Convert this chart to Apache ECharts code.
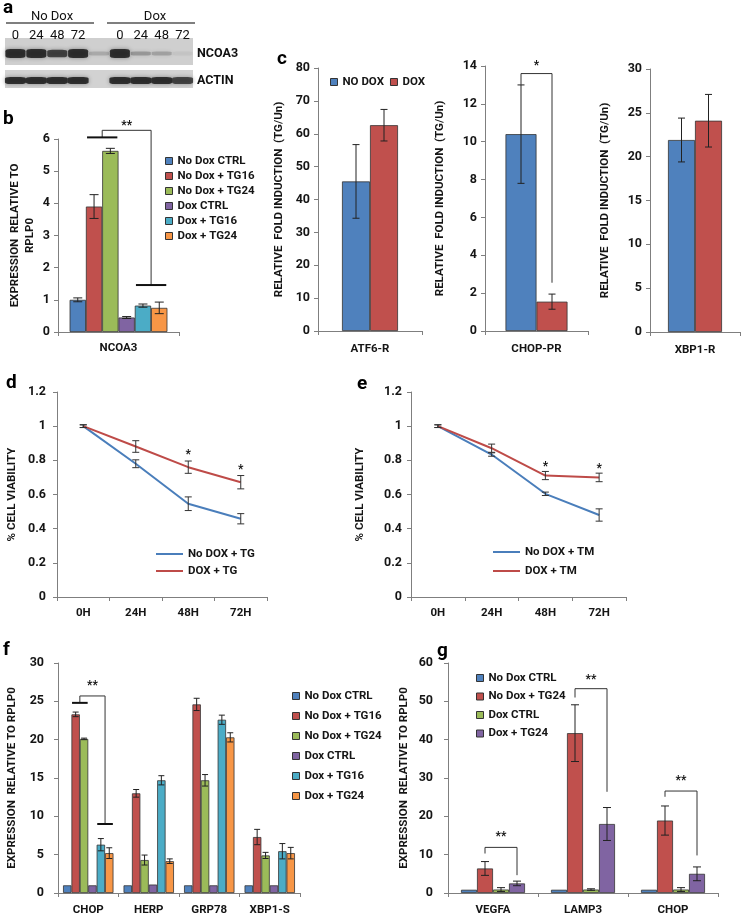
<!DOCTYPE html>
<html><head><meta charset="utf-8">
<script src="https://cdn.jsdelivr.net/npm/echarts@6/dist/echarts.min.js"></script>
<style>html,body{margin:0;padding:0;background:#fff}#c{width:745px;height:916px}</style>
</head><body><div id="c"></div>
<script>
// ---------------- DATA ----------------
// (a) western blot – relative band intensities per lane
const blotLanes = ['0','24','48','72','','0','24','48','72'];
const blotRows = ['ACTIN','NCOA3'];
const blotNCOA3 = [1.0, 1.0, 0.85, 1.0, 0.2, 1.0, 0.3, 0.25, 0.06];
const blotACTIN = [1.0, 1.0, 1.0, 1.0, 0, 1.0, 1.0, 1.0, 0.85];

// (b)
const names6 = ['No Dox CTRL','No Dox + TG16','No Dox + TG24','Dox CTRL','Dox + TG16','Dox + TG24'];
const colors6 = ['#4f81bd','#c0504d','#9bbb59','#8064a2','#4bacc6','#f79646'];
const bCategories = ['NCOA3'];
const bMeans = [1.0, 3.9, 5.63, 0.45, 0.82, 0.75];
const bErrors = [0.06, 0.37, 0.08, 0.03, 0.05, 0.18];

// (c)
const cNames = ['NO DOX','DOX'];
const cColors = ['#4f81bd','#c0504d'];
const cCategories = ['ATF6-R','CHOP-PR','XBP1-R'];
const cNoDox = [45.5, 10.4, 21.9];
const cNoDoxErr = [11.2, 2.6, 2.5];
const cDox = [62.6, 1.55, 24.1];
const cDoxErr = [4.8, 0.4, 3.0];
const cMax = [80, 14, 30];
const cInterval = [10, 2, 5];

// (d) TG viability
const timeCategories = ['0H','24H','48H','72H'];
const dNames = ['No DOX + TG','DOX + TG'];
const dNoDox = [1.0, 0.78, 0.546, 0.458];
const dNoDoxErr = [0.008, 0.023, 0.04, 0.03];
const dDox = [1.0, 0.881, 0.76, 0.672];
const dDoxErr = [0.008, 0.034, 0.036, 0.039];
const dStars = [[2, 0.85], [3, 0.76]];

// (e) TM viability
const eNames = ['No DOX + TM','DOX + TM'];
const eNoDox = [1.0, 0.834, 0.604, 0.48];
const eNoDoxErr = [0.008, 0.01, 0.01, 0.036];
const eDox = [1.0, 0.871, 0.711, 0.70];
const eDoxErr = [0.008, 0.024, 0.024, 0.025];
const eStars = [[2, 0.776], [3, 0.764]];

// (f)
const fCategories = ['CHOP','HERP','GRP78','XBP1-S'];
const fNoDoxCtrl = [1, 1, 1, 1];
const fNoDoxTG16 = [23.3, 13.0, 24.6, 7.3];
const fNoDoxTG24 = [20.1, 4.3, 14.7, 4.9];
const fDoxCtrl = [1, 1.1, 1, 1];
const fDoxTG16 = [6.3, 14.7, 22.6, 5.45];
const fDoxTG24 = [5.2, 4.15, 20.3, 5.2];
const fNoDoxCtrlErr = [0, 0, 0, 0];
const fNoDoxTG16Err = [0.3, 0.5, 0.8, 1.0];
const fNoDoxTG24Err = [0.1, 0.65, 0.75, 0.4];
const fDoxCtrlErr = [0, 0, 0, 0];
const fDoxTG16Err = [0.8, 0.6, 0.6, 1.0];
const fDoxTG24Err = [0.7, 0.3, 0.6, 0.75];

// (g)
const gNames = ['No Dox CTRL','No Dox + TG24','Dox CTRL','Dox + TG24'];
const gColors = ['#4f81bd','#c0504d','#9bbb59','#8064a2'];
const gCategories = ['VEGFA','LAMP3','CHOP'];
const gNoDoxCtrl = [0.85, 0.85, 0.85];
const gNoDoxTG24 = [6.4, 41.7, 18.9];
const gDoxCtrl = [0.9, 0.9, 0.9];
const gDoxTG24 = [2.5, 18.0, 5.0];
const gNoDoxCtrlErr = [0, 0, 0];
const gNoDoxTG24Err = [1.8, 7.4, 3.8];
const gDoxCtrlErr = [0.5, 0.2, 0.5];
const gDoxTG24Err = [0.6, 4.3, 1.8];

// significance brackets: [category, leftBarPos, rightBarPos, yLeft, yTop, yRight, yStar]
const bBrackets = [[0, 1.5, 4.5, 6.05, 6.27, 1.46, 6.5]];
const bBracketLabels = ['**'];
const cBrackets = [[0, 0, 1, 13.0, 13.6, 2.55, 14.15]];
const cBracketLabels = ['*'];
const fBrackets = [[0, 1.5, 4.5, 24.8, 25.7, 9.0, 27.4]];
const fBracketLabels = ['**'];
const gBrackets = [[0, 1, 3, 10.3, 11.9, 4.65, 15.3], [1, 1, 3, 51.0, 53.3, 26.4, 56.4], [2, 1, 3, 25.1, 26.6, 9.8, 30.0]];
const gBracketLabels = ['**','**','**'];

// ---------------- STYLE HELPERS ----------------
const FF = 'Roboto, "Liberation Sans", sans-serif';
const AX = '#7f7f7f';
const TXT = '#151515';
const BORDER = '#333';

function yAx(gi, max, interval, name, gap, labelMargin) {
  return {type:'value', gridIndex:gi, min:0, max:max, interval:interval,
    name:name, nameLocation:'middle', nameGap:gap, nameRotate:90,
    nameTextStyle:{fontFamily:FF, fontWeight:'bold', fontSize:11.5, color:TXT, lineHeight:15},
    axisLine:{show:true, lineStyle:{color:AX}},
    axisTick:{show:true, length:4, lineStyle:{color:AX}},
    splitLine:{show:false},
    axisLabel:{fontFamily:FF, fontWeight:'bold', fontSize:12.5, color:TXT, margin:labelMargin}};
}
function xCat(gi, data, margin) {
  return {type:'category', gridIndex:gi, data:data,
    axisLine:{show:true, lineStyle:{color:AX}},
    axisTick:{show:true, length:4, lineStyle:{color:AX}},
    splitLine:{show:false},
    axisLabel:{fontFamily:FF, fontWeight:'bold', fontSize:11.5, color:TXT, margin:margin}};
}
function bar(ai, name, color, values, barW) {
  return {type:'bar', name:name, xAxisIndex:ai, yAxisIndex:ai, data:values, barWidth:barW, barGap:'0%',
    itemStyle:{color:color, borderColor:BORDER, borderWidth:0.8}, silent:true, z:2};
}
function errBars(ai, means, errs, n, idx, barW, capW, color) {
  return {type:'custom', xAxisIndex:ai, yAxisIndex:ai, silent:true, z:4, clip:false,
    data: means.map(function(m,k){ return [k, m, errs[k]]; }),
    renderItem: function(params, api) {
      const e = api.value(2);
      if (!e) return null;
      const off = (idx - (n-1)/2) * barW;
      const top = api.coord([api.value(0), api.value(1) + e]);
      const bot = api.coord([api.value(0), api.value(1) - e]);
      const x = top[0] + off;
      const st = {stroke:color || '#222', lineWidth:1};
      return {type:'group', children:[
        {type:'line', shape:{x1:x, y1:top[1], x2:x, y2:bot[1]}, style:st},
        {type:'line', shape:{x1:x-capW/2, y1:top[1], x2:x+capW/2, y2:top[1]}, style:st},
        {type:'line', shape:{x1:x-capW/2, y1:bot[1], x2:x+capW/2, y2:bot[1]}, style:st}
      ]};
    }};
}
// withBars: bracket ends are short horizontal bars spanning two columns
function brackets(ai, list, labels, n, barW, withBars) {
  return {type:'custom', xAxisIndex:ai, yAxisIndex:ai, silent:true, z:5, clip:false,
    data:list,
    renderItem: function(params, api) {
      const cat = api.value(0);
      const xl = api.coord([cat, 0])[0] + (api.value(1) - (n-1)/2) * barW;
      const xr = api.coord([cat, 0])[0] + (api.value(2) - (n-1)/2) * barW;
      const yl = api.coord([cat, api.value(3)])[1];
      const yt = api.coord([cat, api.value(4)])[1];
      const yr = api.coord([cat, api.value(5)])[1];
      const ys = api.coord([cat, api.value(6)])[1];
      const st = {stroke:'#333', lineWidth:1, fill:null};
      const ch = [
        {type:'polyline', shape:{points:[[xl,yl],[xl,yt],[xr,yt],[xr,yr]]}, style:st},
        {type:'text', style:{text:labels[params.dataIndex], x:(xl+xr)/2, y:ys+3, align:'center', verticalAlign:'middle',
          font:'bold 12px ' + FF, fill:'#111'}}
      ];
      if (withBars) {
        const hw = 0.93 * barW;
        ch.push({type:'line', shape:{x1:xl-hw, y1:yl, x2:xl+hw, y2:yl}, style:{stroke:'#111', lineWidth:2}});
        ch.push({type:'line', shape:{x1:xr-hw, y1:yr, x2:xr+hw, y2:yr}, style:{stroke:'#111', lineWidth:2}});
      }
      return {type:'group', children:ch};
    }};
}
function stars(ai, list) {
  return {type:'custom', xAxisIndex:ai, yAxisIndex:ai, silent:true, z:5, clip:false, data:list,
    renderItem: function(params, api) {
      const p = api.coord([api.value(0), api.value(1)]);
      return {type:'text', style:{text:'*', x:p[0], y:p[1]+3, align:'center', verticalAlign:'middle',
        font:'bold 12px ' + FF, fill:'#111'}};
    }};
}
function line(ai, name, color, values) {
  return {type:'line', name:name, xAxisIndex:ai, yAxisIndex:ai, data:values, symbol:'none', showSymbol:false,
    lineStyle:{color:color, width:2}, itemStyle:{color:color}, silent:true, z:3};
}

// ---------------- BUILD ----------------
const series = [];
// blot bands
const blotData = [];
blotNCOA3.forEach(function(v,i){ if (v > 0) blotData.push([i, 1, v]); });
blotACTIN.forEach(function(v,i){ if (v > 0) blotData.push([i, 0, v]); });
series.push({type:'scatter', xAxisIndex:0, yAxisIndex:0, data:blotData, silent:true, z:3,
  symbol:'roundRect',
  symbolSize:function(val){ return val[1] === 1 ? [20, 9 * Math.max(0.45, val[2])] : [21, 7]; },
  itemStyle:{color:function(p){ return 'rgba(18,18,18,' + p.value[2] + ')'; }, shadowBlur:4, shadowColor:'rgba(0,0,0,0.45)'}});

// b
names6.forEach(function(nm,i){
  series.push(bar(1, nm, colors6[i], [bMeans[i]], 16.3));
  series.push(errBars(1, [bMeans[i]], [bErrors[i]], 6, i, 16.3, 9));
});
series.push(brackets(1, bBrackets, bBracketLabels, 6, 16.3, true));

// c
const cW = [28, 31, 27];
for (let k = 0; k < 3; k++) {
  const ai = 2 + k;
  series.push(bar(ai, cNames[0], cColors[0], [cNoDox[k]], cW[k]));
  series.push(bar(ai, cNames[1], cColors[1], [cDox[k]], cW[k]));
  series.push(errBars(ai, [cNoDox[k]], [cNoDoxErr[k]], 2, 0, cW[k], 7));
  series.push(errBars(ai, [cDox[k]], [cDoxErr[k]], 2, 1, cW[k], 7));
}
series.push(brackets(3, cBrackets, cBracketLabels, 2, 31, false));

// d
series.push(line(5, dNames[0], '#4a7ebb', dNoDox));
series.push(line(5, dNames[1], '#be4b48', dDox));
series.push(errBars(5, dNoDox, dNoDoxErr, 1, 0, 0, 7, '#333'));
series.push(errBars(5, dDox, dDoxErr, 1, 0, 0, 7, '#333'));
series.push(stars(5, dStars));
// e
series.push(line(6, eNames[0], '#4a7ebb', eNoDox));
series.push(line(6, eNames[1], '#be4b48', eDox));
series.push(errBars(6, eNoDox, eNoDoxErr, 1, 0, 0, 7, '#333'));
series.push(errBars(6, eDox, eDoxErr, 1, 0, 0, 7, '#333'));
series.push(stars(6, eStars));

// f
const fVals = [fNoDoxCtrl, fNoDoxTG16, fNoDoxTG24, fDoxCtrl, fDoxTG16, fDoxTG24];
const fErrs = [fNoDoxCtrlErr, fNoDoxTG16Err, fNoDoxTG24Err, fDoxCtrlErr, fDoxTG16Err, fDoxTG24Err];
names6.forEach(function(nm,i){
  series.push(bar(7, nm, colors6[i], fVals[i], 8.4));
  series.push(errBars(7, fVals[i], fErrs[i], 6, i, 8.4, 6));
});
series.push(brackets(7, fBrackets, fBracketLabels, 6, 8.4, true));

// g
const gVals = [gNoDoxCtrl, gNoDoxTG24, gDoxCtrl, gDoxTG24];
const gErrs = [gNoDoxCtrlErr, gNoDoxTG24Err, gDoxCtrlErr, gDoxTG24Err];
gNames.forEach(function(nm,i){
  series.push(bar(8, nm, gColors[i], gVals[i], 16));
  series.push(errBars(8, gVals[i], gErrs[i], 4, i, 16, 8));
});
series.push(brackets(8, gBrackets, gBracketLabels, 4, 16, false));

const legTxt = {fontFamily:FF, fontWeight:'bold', fontSize:11.5, color:TXT};
const barLegendStyle = {borderColor:BORDER, borderWidth:1};

const option = {
  animation:false,
  backgroundColor:'#fff',
  grid:[
    {left:5, top:40, width:188, height:54},
    {left:58, top:139, width:121, height:193},
    {left:318, top:68, width:104, height:263},
    {left:485, top:66, width:103, height:265},
    {left:650, top:69, width:90, height:263},
    {left:57, top:392, width:210, height:205},
    {left:411, top:392, width:215, height:205},
    {left:58, top:663, width:242, height:231},
    {left:448, top:663, width:270, height:232}
  ],
  xAxis:[
    {type:'category', gridIndex:0, data:blotLanes, position:'top', axisLine:{show:false}, axisTick:{show:false},
      axisLabel:{fontFamily:FF, fontSize:13, color:'#111', margin:-2}},
    xCat(1, bCategories, 10),
    xCat(2, [cCategories[0]], 12),
    xCat(3, [cCategories[1]], 12),
    xCat(4, [cCategories[2]], 12),
    xCat(5, timeCategories, 10),
    xCat(6, timeCategories, 10),
    xCat(7, fCategories, 11),
    xCat(8, gCategories, 11)
  ],
  yAxis:[
    {type:'category', gridIndex:0, data:blotRows, position:'right', axisLine:{show:false}, axisTick:{show:false},
      axisLabel:{fontFamily:FF, fontWeight:'bold', fontSize:12.5, color:'#111', margin:4}},
    yAx(1, 6, 1, 'EXPRESSION  RELATIVE TO\nRPLP0', 20, 8),
    yAx(2, cMax[0], cInterval[0], 'RELATIVE  FOLD INDUCTION  (TG/Un)', 31, 8),
    yAx(3, cMax[1], cInterval[1], 'RELATIVE  FOLD INDUCTION  (TG/Un)', 37, 8),
    yAx(4, cMax[2], cInterval[2], 'RELATIVE  FOLD INDUCTION  (TG/Un)', 37, 8),
    yAx(5, 1.2, 0.2, '% CELL VIABILITY', 37, 11),
    yAx(6, 1.2, 0.2, '% CELL VIABILITY', 43, 9),
    yAx(7, 30, 5, 'EXPRESSION  RELATIVE TO RPLP0', 38, 14),
    yAx(8, 60, 10, 'EXPRESSION  RELATIVE TO RPLP0', 36, 15)
  ],
  legend:[
    {orient:'vertical', left:160, top:150, itemWidth:7, itemHeight:7, itemGap:3, icon:'rect',
      textStyle:legTxt, itemStyle:barLegendStyle,
      data:names6.map(function(n,i){ return {name:n, itemStyle:{color:colors6[i]}}; })},
    {orient:'horizontal', left:325, top:71, itemWidth:7, itemHeight:7, itemGap:6, icon:'rect',
      textStyle:legTxt, itemStyle:barLegendStyle,
      data:cNames.map(function(n,i){ return {name:n, itemStyle:{color:cColors[i]}}; })},
    {orient:'vertical', left:151, top:543, itemWidth:27, itemHeight:2, itemGap:5, icon:'rect',
      textStyle:legTxt, data:dNames},
    {orient:'vertical', left:488, top:541, itemWidth:27, itemHeight:2, itemGap:7, icon:'rect',
      textStyle:legTxt, data:eNames},
    {orient:'vertical', left:287, top:685, itemWidth:7, itemHeight:7, itemGap:8, icon:'rect',
      textStyle:legTxt, itemStyle:barLegendStyle,
      data:names6.map(function(n,i){ return {name:n, itemStyle:{color:colors6[i]}}; })},
    {orient:'vertical', left:471, top:667, itemWidth:7, itemHeight:7, itemGap:6.5, icon:'rect',
      textStyle:legTxt, itemStyle:barLegendStyle,
      data:gNames.map(function(n,i){ return {name:n, itemStyle:{color:gColors[i]}}; })}
  ],
  graphic:[
    {type:'rect', shape:{x:5, y:38, width:188, height:27}, style:{fill:'#cfcfcf'}, z:0, silent:true},
    {type:'rect', shape:{x:5, y:70, width:188, height:18}, style:{fill:'#d2d2d2'}, z:0, silent:true},
    {type:'line', shape:{x1:6, y1:23, x2:94, y2:23}, style:{stroke:'#555', lineWidth:1.5}},
    {type:'line', shape:{x1:107, y1:23, x2:195, y2:23}, style:{stroke:'#555', lineWidth:1.5}},
    {type:'text', style:{text:'No Dox', x:52, y:17, align:'center', verticalAlign:'middle', font:'13px ' + FF, fill:'#111'}},
    {type:'text', style:{text:'Dox', x:155, y:17, align:'center', verticalAlign:'middle', font:'13px ' + FF, fill:'#111'}},
    {type:'text', style:{text:'a', x:3, y:8, verticalAlign:'middle', font:'bold 19px ' + FF, fill:'#000'}},
    {type:'text', style:{text:'b', x:3, y:119, verticalAlign:'middle', font:'bold 19px ' + FF, fill:'#000'}},
    {type:'text', style:{text:'c', x:277, y:59, verticalAlign:'middle', font:'bold 19px ' + FF, fill:'#000'}},
    {type:'text', style:{text:'d', x:6, y:383, verticalAlign:'middle', font:'bold 19px ' + FF, fill:'#000'}},
    {type:'text', style:{text:'e', x:357, y:384, verticalAlign:'middle', font:'bold 19px ' + FF, fill:'#000'}},
    {type:'text', style:{text:'f', x:3, y:650, verticalAlign:'middle', font:'bold 19px ' + FF, fill:'#000'}},
    {type:'text', style:{text:'g', x:437, y:651, verticalAlign:'middle', font:'bold 19px ' + FF, fill:'#000'}}
  ],
  series:series
};

const chart = echarts.init(document.getElementById('c'), null, {renderer:'canvas'});
chart.setOption(option);
</script>
</body></html>
